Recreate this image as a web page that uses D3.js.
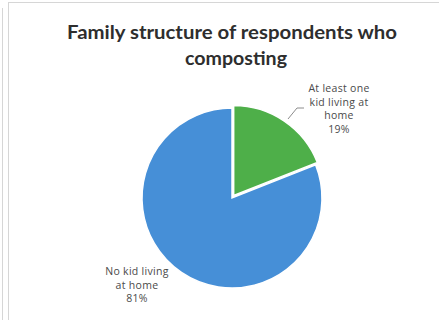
<!DOCTYPE html>
<html>
<head>
<meta charset="utf-8">
<script src="https://cdn.jsdelivr.net/npm/d3@7"></script>
<style>
  html, body { margin: 0; padding: 0; background: #fff; }
  svg { display: block; }
</style>
</head>
<body>
<svg id="chart" width="439" height="320"></svg>
<script>
// Survey shares by household type
const categories = ["At least one kid living at home", "No kid living at home"];
const values = [19, 81];
const labelLines = [
  ["At least one", "kid living at", "home", "19%"],
  ["No kid living", "at home", "81%"]
];
const titleLines = ["Family structure of respondents who", "composting"];
const colors = ["#4EAF49", "#468FD7"];

const svg = d3.select("#chart");
const W = 439, H = 320;

// panel frame
const frame = svg.append("g").attr("stroke", "#d6d6d6").attr("stroke-width", 1).attr("fill", "none");
frame.append("line").attr("x1", 2.5).attr("x2", 2.5).attr("y1", 8).attr("y2", H);
frame.append("line").attr("x1", 8.5).attr("x2", 8.5).attr("y1", 2).attr("y2", H);
frame.append("line").attr("x1", 8).attr("x2", W).attr("y1", 2.5).attr("y2", 2.5);

// title
const title = svg.append("g")
  .attr("font-family", "Lato, 'Open Sans', sans-serif")
  .attr("font-weight", "bold")
  .attr("font-size", 18.5)
  .attr("fill", "#2e2e2e")
  .attr("text-anchor", "middle");
const titlePos = [{x: 232, y: 39, w: 330}, {x: 236, y: 65, w: 102}];
titleLines.forEach((t, i) => {
  title.append("text")
    .attr("x", titlePos[i].x).attr("y", titlePos[i].y)
    .attr("textLength", titlePos[i].w)
    .attr("lengthAdjust", "spacingAndGlyphs")
    .text(t);
});

// pie
const cx = 232, cy = 198, r = 90;
const pie = d3.pie().sort(null).value(d => d);
const arcs = pie(values);
const arc = d3.arc().innerRadius(0).outerRadius(r);
const explode = [3, 0];

const g = svg.append("g").attr("transform", `translate(${cx},${cy})`);
g.selectAll("path")
  .data(arcs)
  .join("path")
  .attr("d", arc)
  .attr("fill", (d, i) => colors[i])
  .attr("stroke", "#fff")
  .attr("stroke-width", 1.5)
  .attr("transform", (d, i) => {
    const a = (d.startAngle + d.endAngle) / 2;
    return `translate(${Math.sin(a) * explode[i]},${-Math.cos(a) * explode[i]})`;
  });

// leader line for the smaller slice
svg.append("polyline")
  .attr("points", "288,119 297,108 304,108")
  .attr("fill", "none")
  .attr("stroke", "#8c8c8c")
  .attr("stroke-width", 1);

// data labels
const labelPos = [{x: 339, y: 92, dy: 13.5}, {x: 137, y: 275, dy: 13.5}];
const labels = svg.append("g")
  .attr("font-family", "'Open Sans', Lato, sans-serif")
  .attr("font-size", 10.5)
  .attr("letter-spacing", 0.3)
  .attr("fill", "#4a4a4a")
  .attr("text-anchor", "middle");
labelLines.forEach((lines, i) => {
  lines.forEach((t, j) => {
    labels.append("text")
      .attr("x", labelPos[i].x)
      .attr("y", labelPos[i].y + j * labelPos[i].dy)
      .text(t);
  });
});
</script>
</body>
</html>
